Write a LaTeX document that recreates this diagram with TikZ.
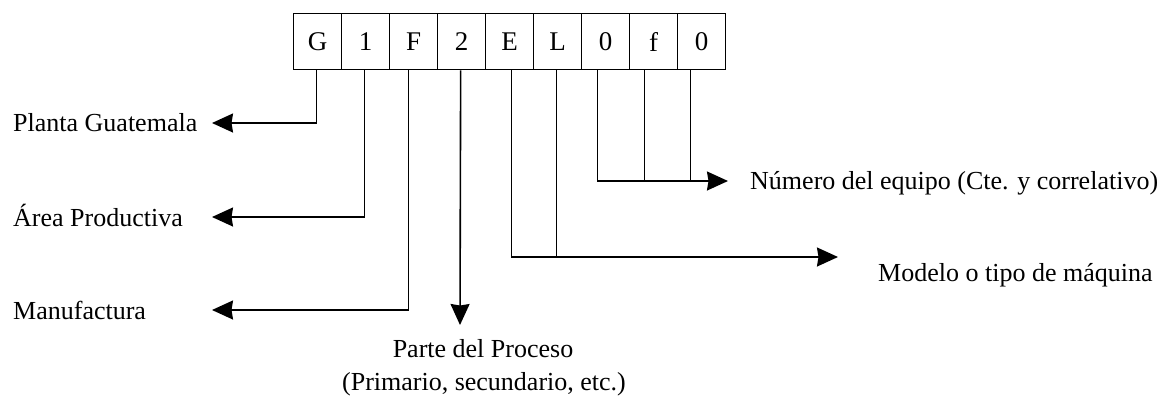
\documentclass[tikz,border=0pt]{standalone}
\usepackage{fontspec}
\setmainfont{Liberation Serif}
\usetikzlibrary{arrows.meta}
\begin{document}
\begin{tikzpicture}[x=1pt,y=-1pt,
  cell/.style={draw, line width=1.3pt, minimum width=48pt, minimum height=56pt,
    inner sep=0pt, anchor=north west, font=\fontsize{27}{27}\selectfont},
  lbl/.style={inner sep=0pt, font=\fontsize{26}{30}\selectfont},
  wire/.style={line width=1.6pt},
  lead/.style={wire, -{Stealth[length=21pt,width=19pt,inset=1.5pt]}}]
\useasboundingbox (0,0) rectangle (1168,416);

% code boxes
\foreach \ch [count=\i from 0] in {G,1,F,2,E,L,0,f,0}
  \node[cell] (c\i) at (293+48*\i,13) {\ch};

% where the leads leave the boxes
\coordinate (s0) at ([xshift=-1pt]c0.south);
\coordinate (s1) at ([xshift=-1pt]c1.south);
\coordinate (s2) at ([xshift=-5pt]c2.south);
\coordinate (s3) at ([xshift=-1pt]c3.south);
\coordinate (s4) at ([xshift=2pt]c4.south);
\coordinate (s5) at ([xshift=-1pt]c5.south);
\coordinate (s6) at ([xshift=-8pt]c6.south);
\coordinate (s7) at ([xshift=-9pt]c7.south);
\coordinate (s8) at ([xshift=-11pt]c8.south);

% arrow tips
\coordinate (tPlanta) at (212,123);
\coordinate (tArea) at (212,217);
\coordinate (tManu) at (212,310);
\coordinate (tParte) at (460,325);
\coordinate (tNum) at (728,181);
\coordinate (tMod) at (838,257);

% labels
\node[lbl, anchor=base west] (lPlanta) at (13,131) {Planta Guatemala};
\node[lbl, anchor=base west] (lArea) at (13,226) {Área Productiva};
\node[lbl, anchor=base west] (lManu) at (13,319) {Manufactura};
\node[lbl, anchor=base] (lParte) at (483,357) {Parte del Proceso};
\node[lbl, anchor=base] (lPrim) at (484,390) {(Primario, secundario, etc.)};
\node[lbl, anchor=base west] (lNum) at (750,189) {Número del equipo (Cte. y correlativo)};
\node[lbl, anchor=base west] (lMod) at (878,281) {Modelo o tipo de máquina};

% leads
\draw[lead] (s0) |- (tPlanta);
\draw[lead] (s1) |- (tArea);
\draw[lead] (s2) |- (tManu);
\draw[lead] (s3) -- (tParte);
\draw[lead] (s8) |- (tNum);
\draw[wire] (s6) |- (s8 |- tNum);
\draw[wire] (s7) -- (s7 |- tNum);
\draw[lead] (s4) |- (tMod);
\draw[wire] (s5) -- (s5 |- tMod);
\end{tikzpicture}
\end{document}
